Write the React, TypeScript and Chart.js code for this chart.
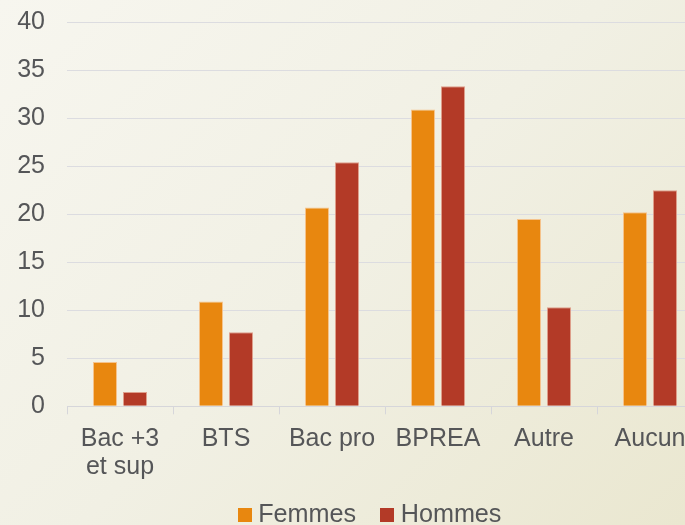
import React, { useEffect, useRef } from "react";
import { Chart, registerables } from "chart.js";

Chart.register(...registerables);

const categories: (string | string[])[] = [["Bac +3", "et sup"], "BTS", "Bac pro", "BPREA", "Autre", "Aucun"];
const femmes = [4.6, 10.9, 20.7, 30.9, 19.5, 20.2];
const hommes = [1.5, 7.7, 25.4, 33.3, 10.3, 22.5];
const seriesNames = ["Femmes", "Hommes"];
const yTicks = { min: 0, max: 40, step: 5 };

const ORANGE = "#E8870F";
const RED = "#B33A27";
const TEXT = "#555658";
const FONT = "'Liberation Sans', Arial, sans-serif";

function swatch(color: string): HTMLCanvasElement {
  const c = document.createElement("canvas");
  c.width = 14;
  c.height = 14;
  const ctx = c.getContext("2d")!;
  ctx.fillStyle = color;
  ctx.fillRect(0, 0, 14, 14);
  return c;
}

export default function App() {
  const ref = useRef<HTMLCanvasElement>(null);

  useEffect(() => {
    if (!ref.current) return;
    const swatches = [swatch(ORANGE), swatch(RED)];
    const chart = new Chart(ref.current, {
      type: "bar",
      data: {
        labels: categories,
        datasets: [
          {
            label: seriesNames[0],
            data: femmes,
            backgroundColor: ORANGE,
            borderColor: "rgba(245,190,130,0.9)",
            borderWidth: 1,
            categoryPercentage: 0.566,
            barPercentage: 0.8,
          },
          {
            label: seriesNames[1],
            data: hommes,
            backgroundColor: RED,
            borderColor: "rgba(220,150,130,0.9)",
            borderWidth: 1,
            categoryPercentage: 0.566,
            barPercentage: 0.8,
          },
        ],
      },
      options: {
        responsive: false,
        animation: false,
        layout: { padding: { top: 22, left: 42, right: 42, bottom: 0 } },
        plugins: {
          tooltip: { enabled: false },
          legend: {
            position: "bottom",
            labels: {
              usePointStyle: true,
              pointStyleWidth: 2,
              boxHeight: 14,
              padding: 30,
              color: TEXT,
              font: { family: FONT, size: 25.2 },
              generateLabels: (c: any) =>
                (Chart.defaults.plugins.legend.labels as any)
                  .generateLabels(c)
                  .map((it: any, i: number) => ({ ...it, pointStyle: swatches[i] })),
            },
          },
        },
        scales: {
          x: {
            offset: true,
            grid: {
              offset: true,
              drawOnChartArea: false,
              drawTicks: true,
              tickLength: 8,
              color: "#D6D6DA",
            },
            border: { display: true, color: "#D6D6DA" },
            ticks: {
              color: TEXT,
              font: { family: FONT, size: 25, lineHeight: 1.12 },
              padding: 11,
              autoSkip: false,
              maxRotation: 0,
              minRotation: 0,
            },
            afterFit: (s: any) => {
              s.height = 66.5;
              s._computeLabelArea = () => undefined;
            },
          },
          y: {
            min: yTicks.min,
            max: yTicks.max,
            grid: { color: "#DCDCE0", drawTicks: false },
            border: { display: false },
            ticks: {
              stepSize: yTicks.step,
              color: TEXT,
              font: { family: FONT, size: 25 },
              padding: 22,
            },
            afterFit: (s: any) => {
              s.width = 25;
              s.paddingTop = 0;
              s.paddingBottom = 0;
              s._computeLabelArea = () => undefined;
            },
          },
        },
      },
    });
    return () => chart.destroy();
  }, []);

  return (
    <div
      style={{
        position: "fixed",
        left: 0,
        top: 0,
        width: 685,
        height: 525,
        overflow: "hidden",
        background: "linear-gradient(135deg, #F7F6EF 0%, #F1F0E4 50%, #EAE7D0 100%)",
      }}
    >
      <canvas
        ref={ref}
        width={745}
        height={538}
        style={{ position: "absolute", left: 0, top: 0, width: 745, height: 538 }}
      />
    </div>
  );
}
